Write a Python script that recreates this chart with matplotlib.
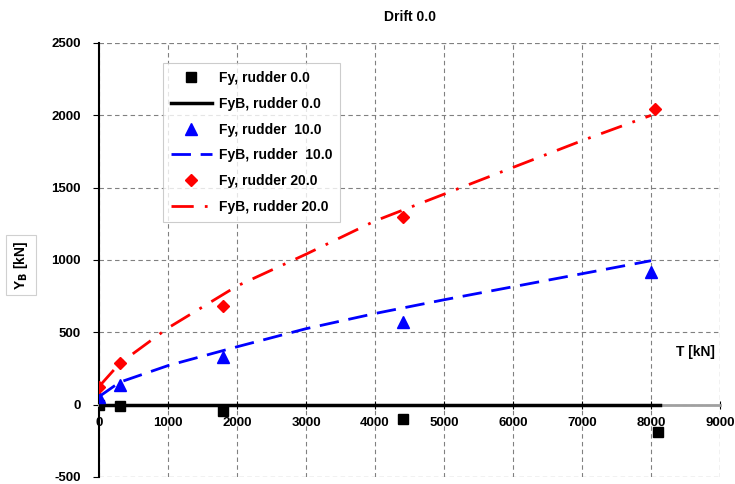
import matplotlib.pyplot as plt

# thrust values (kN) where Fy was measured
thrust = [0, 300, 1800, 4400, 8100]
fy_r0 = [0, -10, -45, -100, -190]
thrust_r10 = [0, 300, 1800, 4400, 8000]
fy_r10 = [55, 138, 330, 572, 918]
thrust_r20 = [0, 300, 1800, 4400, 8050]
fy_r20 = [125, 290, 684, 1298, 2044]

# FyB curves
fyb_x = [0, 300, 1000, 2000, 3000, 4000, 5000, 6000, 7000, 8000]
fyb_r0_x = [0, 8130]
fyb_r0 = [0, 0]
fyb_r10 = [55, 155, 270, 400, 525, 630, 725, 815, 905, 995]
fyb_r20 = [125, 285, 530, 820, 1040, 1270, 1455, 1640, 1825, 2000]

plt.rcParams['font.family'] = ['Liberation Sans', 'DejaVu Sans']
plt.rcParams['font.weight'] = 'bold'
plt.rcParams['axes.unicode_minus'] = False

fig = plt.figure(figsize=(7.35, 4.84), dpi=100)
ax = fig.add_axes([0.1347, 0.0145, 0.845, 0.8967])

ax.plot(thrust, fy_r0, 's', color='black', markersize=6.5, label='Fy, rudder 0.0', zorder=5)
ax.plot(fyb_r0_x, fyb_r0, '-', color='black', linewidth=2.5, label='FyB, rudder 0.0', zorder=4)
ax.plot(thrust_r10, fy_r10, '^', color='#0000ff', markersize=8, label='Fy, rudder  10.0', zorder=5)
ax.plot(fyb_x, fyb_r10, color='#0000ff', linewidth=2, dashes=(7, 3.5), label='FyB, rudder  10.0', zorder=4)
ax.plot(thrust_r20, fy_r20, 'D', color='#ff0000', markersize=6.5, label='Fy, rudder 20.0', zorder=5)
ax.plot(fyb_x, fyb_r20, color='#ff0000', linewidth=2, dashes=(8, 4, 1, 4), label='FyB, rudder 20.0', zorder=4)

ax.set_xlim(0, 9000)
ax.set_ylim(-500, 2500)
ax.set_xticks(range(0, 9001, 1000))
ax.set_yticks(range(-500, 2501, 500))
grid_style = dict(color='#808080', linestyle=(0, (4, 3)), linewidth=0.8)
ax.grid(True, **grid_style)
ax.axvline(9000, **grid_style)
for y in [2500, -500]:
    ax.axhline(y, **grid_style)

ax.spines['top'].set_visible(False)
ax.spines['right'].set_visible(False)
ax.spines['left'].set_position(('data', 0))
ax.spines['left'].set_linewidth(1.5)
ax.spines['bottom'].set_position(('data', 0))
ax.spines['bottom'].set_color('#a0a0a0')
ax.spines['bottom'].set_linewidth(2)
ax.tick_params(axis='both', labelsize=9.5, length=4, width=0.8, colors='black')
ax.tick_params(axis='y', pad=9)
ax.tick_params(axis='x', direction='inout', length=6, pad=6)

ax.set_title('Drift 0.0', fontsize=10, fontweight='bold', pad=16)
ax.text(8930, 367, 'T [kN]', fontsize=10, ha='right', va='center')
fig.text(0.0286, 0.4525, 'Y$_\\mathbf{B}$ [kN]', fontsize=10, rotation=90, ha='center', va='center',
         bbox=dict(facecolor='white', edgecolor='#d0d0d0', linewidth=0.8, pad=4))

leg = ax.legend(loc='upper left', bbox_to_anchor=(0.103, 0.954), fontsize=10, frameon=True,
                fancybox=False, edgecolor='#c0c0c0', handlelength=2.9, labelspacing=0.84,
                borderpad=0.6, handletextpad=0.5, borderaxespad=0)
leg.get_frame().set_linewidth(0.8)

fig.savefig('out.png', dpi=100)
